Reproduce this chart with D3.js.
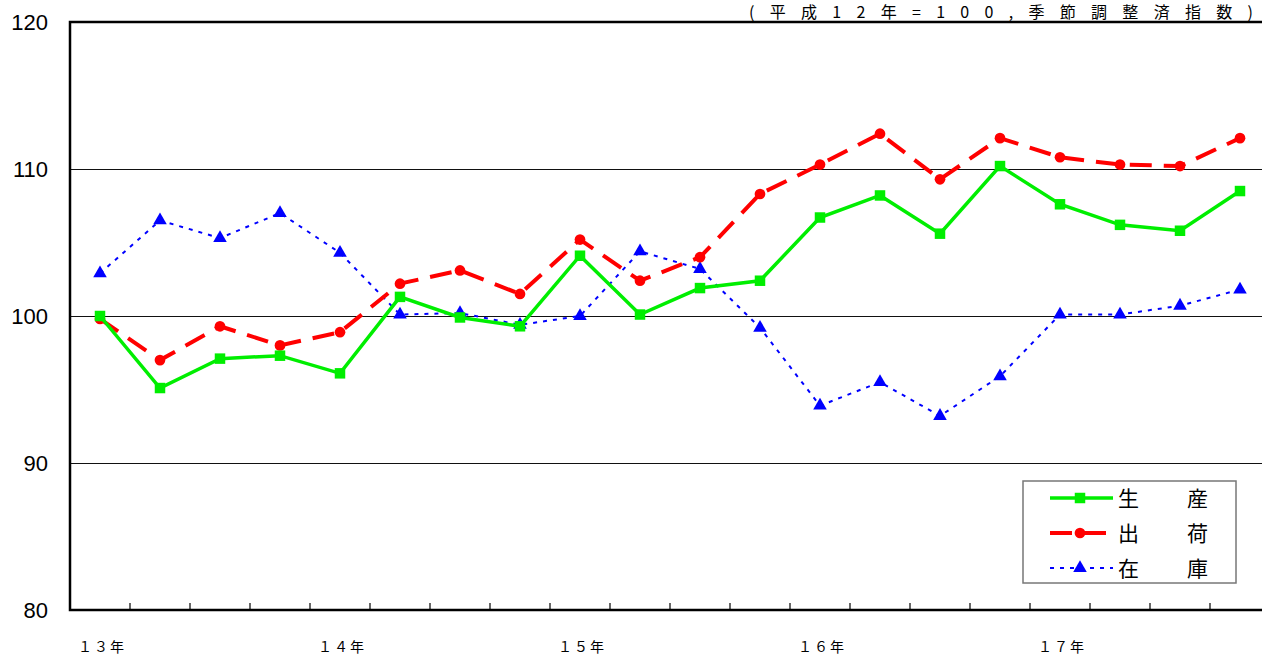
<!DOCTYPE html>
<html>
<head>
<meta charset="utf-8">
<script src="https://cdn.jsdelivr.net/npm/d3@7"></script>
<style>
  body { margin: 0; background: #fff; }
  svg { display: block; }
  .ylab { font-family: "Liberation Sans", Arial, sans-serif; font-size: 22px; fill: #000; }
  .jp { font-family: "Noto Sans CJK JP", sans-serif; fill: #000; }
</style>
</head>
<body>
<svg id="chart" width="1262" height="657"></svg>
<script>
'use strict'

// quarters, 平成13年 I期 .. 平成17年 IV期
const periods = [
  '13-1', '13-2', '13-3', '13-4',
  '14-1', '14-2', '14-3', '14-4',
  '15-1', '15-2', '15-3', '15-4',
  '16-1', '16-2', '16-3', '16-4',
  '17-1', '17-2', '17-3', '17-4'
]
const yearLabels = ['１３年', '１４年', '１５年', '１６年', '１７年']
const yTicks = [80, 90, 100, 110, 120]

const production = [100.0, 95.1, 97.1, 97.3, 96.1, 101.3, 99.9, 99.3, 104.1, 100.1,
  101.9, 102.4, 106.7, 108.2, 105.6, 110.2, 107.6, 106.2, 105.8, 108.5]
const shipments = [99.8, 97.0, 99.3, 98.0, 98.9, 102.2, 103.1, 101.5, 105.2, 102.4,
  104.0, 108.3, 110.3, 112.4, 109.3, 112.1, 110.8, 110.3, 110.2, 112.1]
const inventory = [102.9, 106.5, 105.3, 107.0, 104.3, 100.1, 100.2, 99.4, 100.0, 104.4,
  103.2, 99.2, 93.9, 95.5, 93.2, 95.9, 100.1, 100.1, 100.7, 101.8]

const seriesNames = [['生', '産'], ['出', '荷'], ['在', '庫']]

const svg = d3.select('#chart')
const margins = {top: 22, left: 70, bottom: 610, right: 1270}

const x = d3.scaleBand().domain(periods).range([margins.left, margins.right])
const cx = (p) => x(p) + x.bandwidth() / 2
const y = d3.scaleLinear().domain([80, 120]).range([margins.bottom, margins.top])

// gridlines (90, 100, 110):
svg.append('g')
  .selectAll('line')
  .data(yTicks.slice(1, -1))
  .enter().append('line')
    .attr('x1', margins.left).attr('x2', margins.right)
    .attr('y1', d => Math.round(y(d)) + 0.5).attr('y2', d => Math.round(y(d)) + 0.5)
    .attr('stroke', '#111').attr('stroke-width', 1)

// frame:
svg.append('path')
  .attr('d', `M${margins.right},${margins.top}H${margins.left}V${margins.bottom}H${margins.right}`)
  .attr('fill', 'none').attr('stroke', '#000').attr('stroke-width', 2.5)

// tick marks between quarters (pointing up):
svg.append('g')
  .selectAll('line')
  .data(periods.slice(1))
  .enter().append('line')
    .attr('x1', d => x(d)).attr('x2', d => x(d))
    .attr('y1', margins.bottom).attr('y2', margins.bottom - 7)
    .attr('stroke', '#000').attr('stroke-width', 1.2)

// y labels:
svg.append('g')
  .selectAll('text')
  .data(yTicks)
  .enter().append('text')
    .classed('ylab', true)
    .attr('x', 48)
    .attr('y', d => y(d) + 8)
    .attr('text-anchor', 'end')
    .text(d => d)

// year labels under the first quarter of each year:
svg.append('g')
  .selectAll('text')
  .data(yearLabels)
  .enter().append('text')
    .classed('jp', true)
    .attr('x', (d, i) => cx(periods[i * 4]) + 2)
    .attr('y', 652)
    .attr('text-anchor', 'middle')
    .style('font-size', '14px')
    .style('letter-spacing', '2px')
    .text(d => d)

// unit note at top right:
svg.append('text')
  .classed('jp', true)
  .attr('x', 749).attr('y', 18)
  .attr('textLength', 504)
  .attr('lengthAdjust', 'spacing')
  .style('font-size', '16px')
  .text('(平成12年=100,季節調整済指数)')

const line = d3.line().x((d, i) => cx(periods[i])).y(d => y(d))

const styles = [
  {data: production, color: '#00ee00', width: 3.5, dash: null, symbol: d3.symbolSquare, size: 110},
  {data: shipments, color: '#ff0000', width: 4, dash: '22,12', symbol: d3.symbolCircle, size: 90},
  {data: inventory, color: '#0000ff', width: 2, dash: '4,6', symbol: d3.symbolTriangle, size: 80}
]

// draw inventory first, production last (on top):
const drawOrder = [2, 1, 0]
drawOrder.forEach(k => {
  const s = styles[k]
  svg.append('path')
    .datum(s.data)
    .attr('d', line)
    .attr('fill', 'none')
    .attr('stroke', s.color)
    .attr('stroke-width', s.width)
    .attr('stroke-dasharray', s.dash)
  svg.append('g')
    .selectAll('path')
    .data(s.data)
    .enter().append('path')
      .attr('d', d3.symbol().type(s.symbol).size(s.size))
      .attr('transform', (d, i) => `translate(${cx(periods[i])},${y(d)})`)
      .attr('fill', s.color)
})

// legend:
const legend = svg.append('g').attr('transform', 'translate(1023,481)')
legend.append('rect')
  .attr('width', 213).attr('height', 102)
  .attr('fill', '#fff').attr('stroke', '#777').attr('stroke-width', 1.5)

styles.forEach((s, i) => {
  const row = legend.append('g').attr('transform', `translate(0,${17 + i * 35})`)
  row.append('line')
    .attr('x1', 27).attr('x2', 90)
    .attr('stroke', s.color)
    .attr('stroke-width', s.width)
    .attr('stroke-dasharray', s.dash)
  row.append('path')
    .attr('d', d3.symbol().type(s.symbol).size(s.size))
    .attr('transform', 'translate(57,0)')
    .attr('fill', s.color)
  row.append('text')
    .classed('jp', true)
    .attr('x', 95).attr('y', 8)
    .style('font-size', '21px')
    .text(seriesNames[i][0])
  row.append('text')
    .classed('jp', true)
    .attr('x', 164).attr('y', 8)
    .style('font-size', '21px')
    .text(seriesNames[i][1])
})
</script>
</body>
</html>
